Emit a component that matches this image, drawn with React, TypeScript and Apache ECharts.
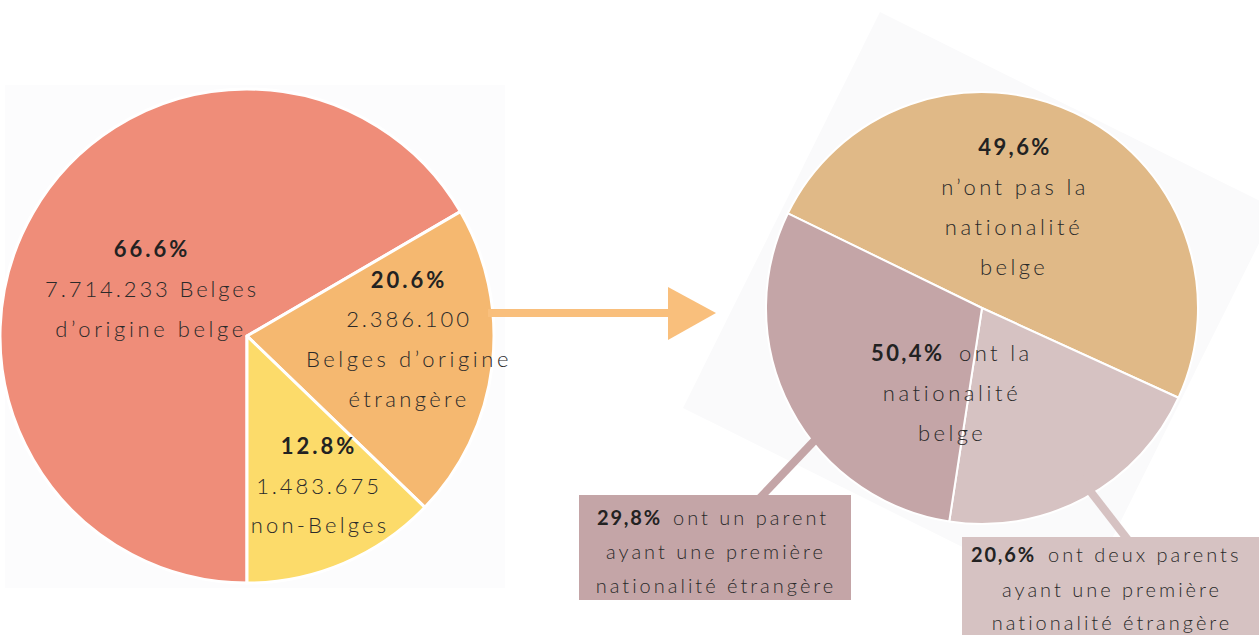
import React, { useEffect, useRef } from "react";
import * as echarts from "echarts";

const leftCategories = ["Belges d’origine belge", "Belges d’origine étrangère", "non-Belges"];
const leftPercents = [66.6, 20.6, 12.8];
const leftCounts = ["7.714.233", "2.386.100", "1.483.675"];
const leftColors = ["#EF8D79", "#F5B870", "#FCDB6A"];

const rightCategories = [
  "n’ont pas la nationalité belge",
  "ont deux parents ayant une première nationalité étrangère",
  "ont un parent ayant une première nationalité étrangère",
];
const rightPercents = [49.6, 20.6, 29.8];
const rightColors = ["#E0B987", "#D6C2C2", "#C4A5A7"];

const FONT = "Lato";
const TXT = "#2a2a2a";

function fr(v: number) {
  return v.toFixed(1).replace(".", ",") + "%";
}

const spacing: Record<string, number> = {};

function txt(
  x: number,
  y: number,
  text: string,
  opts: { size?: number; bold?: boolean; align?: string; ls?: number } = {}
) {
  const size = opts.size ?? 22;
  const bold = !!opts.bold;
  spacing[text] = opts.ls ?? 2.9;
  return {
    type: "text",
    x,
    y,
    z: 100,
    style: {
      text,
      fontFamily: FONT,
      fontSize: size,
      fontWeight: bold ? "bold" : 300,
      fill: bold ? "#222222" : TXT,
      textAlign: opts.align ?? "center",
      textVerticalAlign: "middle",
    },
  };
}

export default function App() {
  const ref = useRef<HTMLDivElement>(null);
  useEffect(() => {
    const el = ref.current!;
    const chart = echarts.init(el, null, { renderer: "svg" });
    const lp = leftPercents.map((v) => v.toFixed(1) + "%");
    const belgeNat = rightPercents[1] + rightPercents[2];
    chart.setOption({
      animation: false,
      backgroundColor: "#ffffff",
      series: [
        {
          type: "pie",
          center: [247, 336],
          radius: [0, 247],
          startAngle: 270,
          clockwise: true,
          label: { show: false },
          labelLine: { show: false },
          silent: true,
          z: 5,
          itemStyle: { borderColor: "#ffffff", borderWidth: 3 },
          data: leftCategories.map((name, i) => ({
            name,
            value: leftPercents[i],
            itemStyle: { color: leftColors[i] },
          })),
        },
        {
          type: "pie",
          center: [982, 308],
          radius: [0, 216],
          startAngle: 154,
          clockwise: true,
          label: { show: false },
          labelLine: { show: false },
          silent: true,
          z: 5,
          itemStyle: { borderColor: "#ffffff", borderWidth: 2 },
          data: rightCategories.map((name, i) => ({
            name,
            value: rightPercents[i],
            itemStyle: { color: rightColors[i] },
          })),
        },
      ],
      graphic: [
        {
          type: "rect",
          z: -10,
          shape: { x: 5, y: 85, width: 500, height: 503 },
          style: { fill: "#fcfcfd" },
        },
        {
          type: "polygon",
          z: -10,
          shape: {
            points: [
              [880, 12],
              [1276, 209],
              [1079, 605],
              [683, 408],
            ],
          },
          style: { fill: "#fafafb" },
        },
        // arrow
        {
          type: "rect",
          z: 50,
          shape: { x: 488, y: 309, width: 182, height: 8 },
          style: { fill: "#F9BF7C" },
        },
        {
          type: "polygon",
          z: 50,
          shape: { points: [[668, 287], [716, 313], [668, 340]] },
          style: { fill: "#F9BF7C" },
        },
        // connectors
        {
          type: "line",
          z: 50,
          shape: { x1: 815, y1: 440, x2: 758, y2: 500 },
          style: { stroke: "#C4A5A7", lineWidth: 8 },
        },
        {
          type: "line",
          z: 50,
          shape: { x1: 1080, y1: 478, x2: 1128, y2: 540 },
          style: { stroke: "#D6C2C2", lineWidth: 8 },
        },
        // boxes
        {
          type: "rect",
          z: 60,
          shape: { x: 579, y: 495, width: 272, height: 105 },
          style: { fill: "#C4A5A7" },
        },
        {
          type: "rect",
          z: 60,
          shape: { x: 962, y: 537, width: 297, height: 98 },
          style: { fill: "#D6C2C2" },
        },
        // left labels
        txt(152, 248, lp[0], { bold: true, size: 22, ls: 3 }),
        txt(152, 288, `${leftCounts[0]} Belges`),
        txt(151, 328, "d’origine belge", { ls: 3.6 }),
        txt(409, 279, lp[1], { bold: true, size: 22, ls: 3 }),
        txt(409, 318, leftCounts[1]),
        txt(409, 358, "Belges d’origine", { ls: 3.6 }),
        txt(409, 398, "étrangère", { ls: 3.4 }),
        txt(319, 445, lp[2], { bold: true, size: 22, ls: 3 }),
        txt(319, 485, leftCounts[2]),
        txt(320, 524, "non-Belges", { ls: 3.2 }),
        // right labels
        txt(1015, 146, fr(rightPercents[0]), { bold: true, size: 22, ls: 2.4 }),
        txt(1015, 186, "n’ont pas la", { ls: 3.4 }),
        txt(1014, 226, "nationalité", { ls: 3.6 }),
        txt(1014, 266, "belge", { ls: 3.4 }),
        txt(871, 352, fr(belgeNat), { bold: true, size: 22, align: "left", ls: 2.4 }),
        txt(959, 352, "ont la", { align: "left", ls: 3.4 }),
        txt(952, 392, "nationalité", { ls: 3.6 }),
        txt(952, 432, "belge", { ls: 3.4 }),
        // box texts
        txt(597, 517, fr(rightPercents[2]), { bold: true, size: 20, align: "left", ls: 1.8 }),
        txt(673, 517, "ont un parent", { size: 20, align: "left", ls: 3 }),
        txt(716, 551, "ayant une première", { size: 20, ls: 3 }),
        txt(716, 585, "nationalité étrangère", { size: 20, ls: 3 }),
        txt(971, 554, fr(rightPercents[1]), { bold: true, size: 20, align: "left", ls: 1.8 }),
        txt(1048, 554, "ont deux parents", { size: 20, align: "left", ls: 3 }),
        txt(1112, 589, "ayant une première", { size: 20, ls: 3 }),
        txt(1112, 622, "nationalité étrangère", { size: 20, ls: 3 }),
      ],
    });
    const applySpacing = () => {
      el.querySelectorAll("text").forEach((t) => {
        const s = spacing[(t.textContent || "").trim()];
        if (s !== undefined) t.setAttribute("letter-spacing", s + "px");
      });
    };
    applySpacing();
    chart.on("finished", applySpacing);
    const raf = requestAnimationFrame(applySpacing);
    const tm = setTimeout(applySpacing, 50);
    return () => {
      cancelAnimationFrame(raf);
      clearTimeout(tm);
      chart.dispose();
    };
  }, []);
  return (
    <div
      ref={ref}
      style={{ position: "fixed", left: 0, top: 0, width: "1259px", height: "635px" }}
    />
  );
}
